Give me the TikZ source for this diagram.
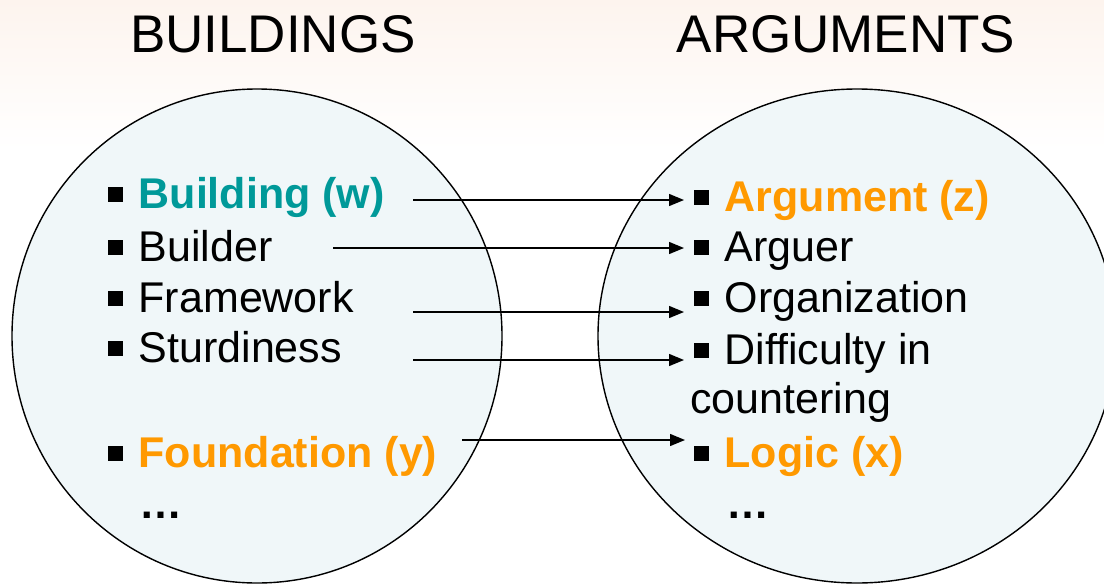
\documentclass[tikz,border=0pt]{standalone}
\usepackage{fontspec}
\setmainfont{Liberation Sans}
\usetikzlibrary{arrows.meta}
\definecolor{tealc}{RGB}{0,153,153}
\definecolor{orangec}{RGB}{255,153,0}
\definecolor{circfill}{RGB}{240,247,249}
\definecolor{peach}{RGB}{253,244,238}
\newcommand\sqbul{\rule[6pt]{15pt}{15pt}\hspace{15.5pt}}
\begin{document}
\begin{tikzpicture}[x=1pt,y=-1pt,
  item/.style={anchor=base west, inner sep=0pt, font=\fontsize{43}{48}\selectfont},
  heading/.style={anchor=base, inner sep=0pt, font=\fontsize{53}{60}\selectfont},
  arr/.style={line width=1.4pt, -{Triangle[length=15pt,width=12pt]}},
  circ/.style={draw=black, line width=1.4pt, fill=circfill}]
\useasboundingbox (0,0) rectangle (1104,584);
\fill[white] (0,0) rectangle (1104,584);
\shade[top color=peach, bottom color=white] (0,0) rectangle (1104,150);

% titles
\node[heading] (tb) at (273,52) {BUILDINGS};
\node[heading] (ta) at (846,52) {ARGUMENTS};

% circles
\draw[circ] (257,336) ellipse [x radius=245, y radius=247];
\draw[circ] (857,336) ellipse [x radius=259, y radius=247];

% left items
\node[item] (bw) at (108,208) {\sqbul\textbf{\color{tealc}Building (w)}};
\node[item] (bb) at (108,261) {\sqbul Builder};
\node[item] (bf) at (108,312) {\sqbul Framework};
\node[item] (bs) at (108,362) {\sqbul Sturdiness};
\node[item] (by) at (108,467) {\sqbul\textbf{\color{orangec}Foundation (y)}};
\node[item] (bd) at (139,518) {\textbf{…}};

% right items
\node[item] (az) at (694,211) {\sqbul\textbf{\color{orangec}Argument (z)}};
\node[item] (aa) at (694,261) {\sqbul Arguer};
\node[item] (ao) at (694,312) {\sqbul Organization};
\node[item] (ad) at (694,364) {\sqbul Difficulty in};
\node[item] (ac) at (690,413) {countering};
\node[item] (ax) at (694,467) {\sqbul\textbf{\color{orangec}Logic (x)}};
\node[item] (ae) at (726,518) {\textbf{…}};

% arrow end points
\coordinate (s1) at (413,200); \coordinate (e1) at (684,200);
\coordinate (s2) at (333,248); \coordinate (e2) at (684,248);
\coordinate (s3) at (413,312); \coordinate (e3) at (684,312);
\coordinate (s4) at (413,360); \coordinate (e4) at (684,360);
\coordinate (s5) at (462,440); \coordinate (e5) at (685,440);

\draw[arr] (s1) -- (e1);
\draw[arr] (s2) -- (e2);
\draw[arr] (s3) -- (e3);
\draw[arr] (s4) -- (e4);
\draw[arr] (s5) -- (e5);
\end{tikzpicture}
\end{document}
